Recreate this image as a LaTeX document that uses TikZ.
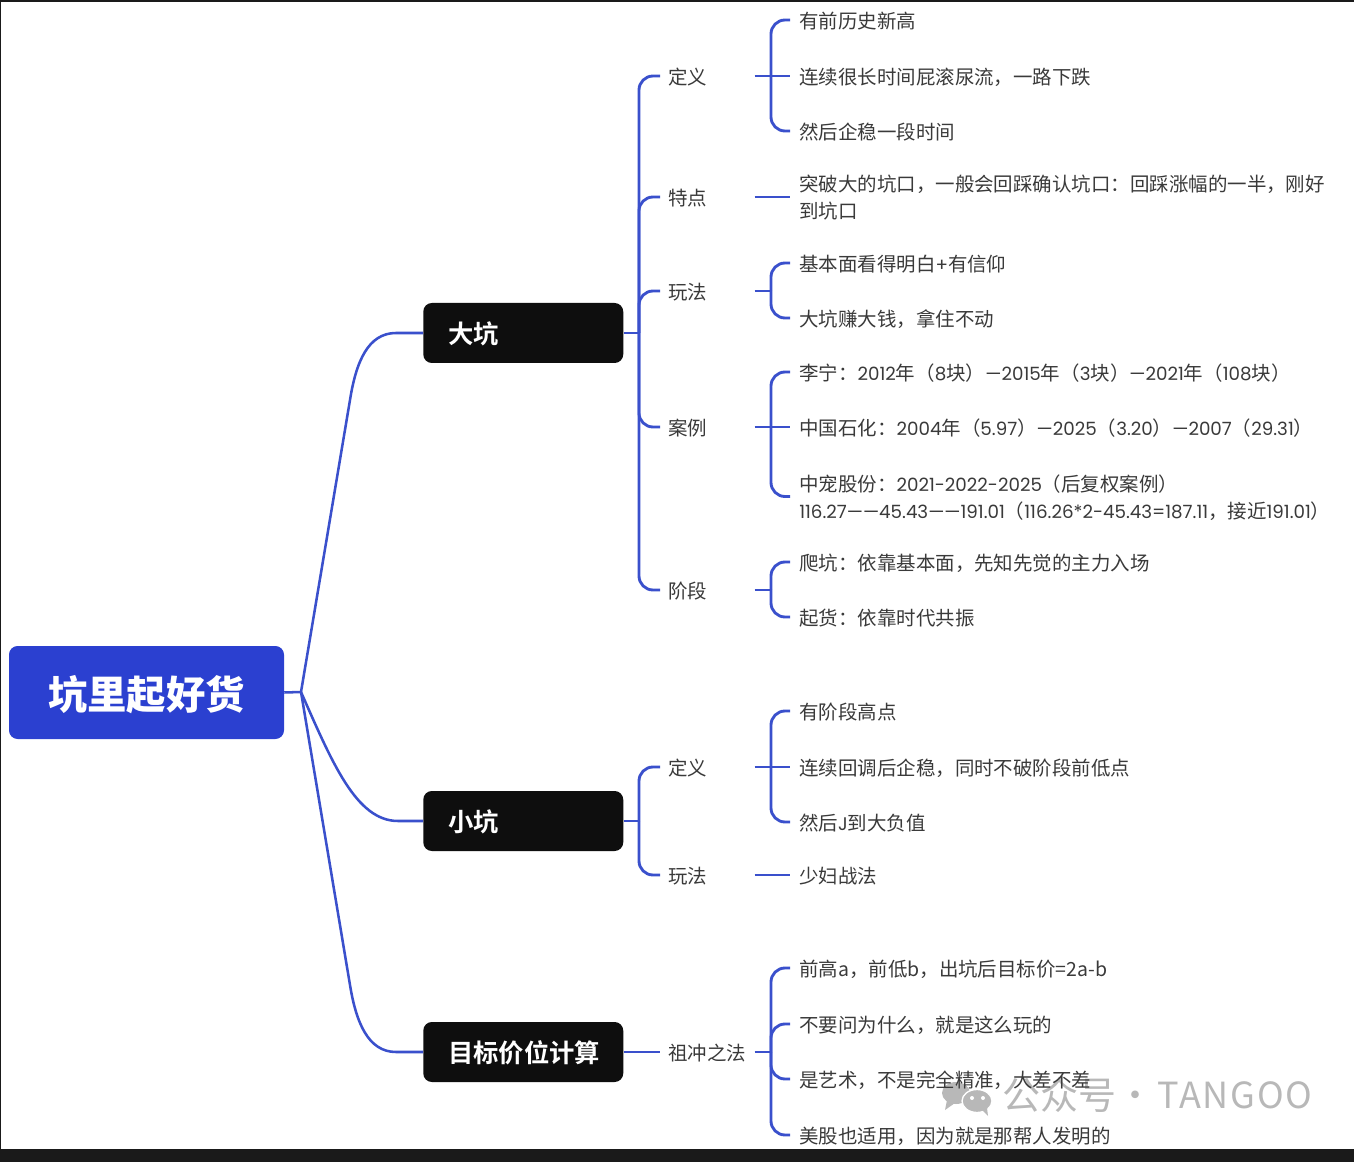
\documentclass[tikz,border=0pt]{standalone}
\usepackage{fontspec}
\newfontfamily\cjk[BoldFont={Noto Sans CJK SC Bold}]{Noto Sans CJK SC}
\newfontfamily\cjkblack{Noto Sans CJK SC Black}
\newfontfamily\popfont{Poppins}
\definecolor{mapblue}{HTML}{2B40D0}
\definecolor{linkblue}{HTML}{3A50CC}
\definecolor{inkdark}{HTML}{3A3A3A}
\definecolor{boxblack}{HTML}{0E0E0E}
\definecolor{framedark}{HTML}{1A1A1A}
\definecolor{wmgray}{HTML}{B8B8B8}
\newcommand{\pop}[1]{{\popfont\fontsize{13.7}{20.25}\selectfont #1}}
\newcommand{\dropped}[2]{\raisebox{-#1}[\height][\depth]{#2}}
\tikzset{
  rootbox/.style={fill=mapblue,rounded corners=6.5pt,minimum width=206.25pt,minimum height=69.75pt,inner sep=0pt,text=white,font=\cjkblack\fontsize{29.5}{32}\selectfont},
  topicbox/.style={fill=boxblack,rounded corners=6.5pt,minimum width=150pt,minimum height=45pt,inner xsep=18.75pt,inner ysep=0pt,text=white,anchor=west,text width=112.5pt,align=left,font=\cjk\bfseries\fontsize{19}{22}\selectfont},
  subtopic/.style={anchor=west,yshift=-0.75pt,inner xsep=6pt,inner ysep=0pt,text width=58.5pt,align=left,text=inkdark,font=\cjk\fontsize{14.6}{20.25}\selectfont},
  leaf/.style={anchor=west,yshift=-0.75pt,inner xsep=6.75pt,inner ysep=0pt,align=left,text=inkdark,font=\cjk\fontsize{14.6}{20.25}\selectfont},
  link/.style={draw=linkblue,line width=1.9pt},
  branch/.style={draw=linkblue,line width=2.15pt},
  elbow/.style={branch,rounded corners=10.5pt},
}
% text nodes sit 1px below their connector line, so connector ends are lifted back
\newcommand{\elbows}[2]{\foreach \c in {#2}{\draw[elbow] (#1) |- ([yshift=0.75pt]\c.west);}}
\begin{document}
\begin{tikzpicture}[x=0.75pt,y=-0.75pt]
\useasboundingbox (0,0) rectangle (1354,1162);
\fill[white] (0,0) rectangle (1354,1162);
\fill[framedark] (0,0) rectangle (1354,2);
\fill[framedark] (0,0) rectangle (1,1162);
\fill[framedark] (0,1149) rectangle (1354,1162);

% watermark
\fill[wmgray] (956,1093) ellipse (14 and 11);
\fill[wmgray] (947,1100) -- (945,1110) -- (955,1103) -- cycle;
\fill[wmgray,draw=white,line width=1pt] (977,1101) ellipse (15 and 11.5);
\fill[wmgray] (982,1110) -- (988,1116) -- (987,1108) -- cycle;
\fill[white] (972,1098) circle (2);
\fill[white] (983,1098) circle (2);
\node[anchor=west,inner sep=0pt,text=wmgray,font=\cjk\fontsize{28.5}{30}\selectfont] (wmark) at (1002,1095) {公众号};
\node[inner sep=0pt,text=wmgray,font=\cjk\fontsize{27}{30}\selectfont] (wdot) at (1135,1100) {·};
\node[anchor=west,inner sep=0pt,text=wmgray,font=\cjk\fontsize{27}{30}\selectfont\addfontfeature{LetterSpace=5}] (wname) at (1157,1095) {TANGOO};

% root and topics
\node[rootbox] (root) at (146.5,692.5) {\dropped{1.6pt}{坑里起好货}};
\node[topicbox] (big) at (423,333) {\dropped{0.7pt}{大坑}};
\node[topicbox] (small) at (423,821) {\dropped{0.7pt}{小坑}};
\node[topicbox] (target) at (423,1052) {\dropped{0.7pt}{目标价位计算}};
\coordinate (rh) at (301,692);
\coordinate (bh) at (639,333);
\coordinate (sh) at (639,821);

% second level
\node[subtopic] (bdef) at (660,76) {定义};
\node[subtopic] (bfea) at (660,197) {特点};
\node[subtopic] (bplay) at (660,291) {玩法};
\node[subtopic] (bcase) at (660,427) {案例};
\node[subtopic] (bstage) at (660,590) {阶段};
\node[subtopic] (sdef) at (660,767) {定义};
\node[subtopic] (splay) at (660,875) {玩法};
\node[subtopic] (zu) at (660,1052) {祖冲之法};

% hubs
\coordinate (h1) at (771,76);
\coordinate (h3) at (771,291);
\coordinate (h4) at (771,427);
\coordinate (h5) at (771,590);
\coordinate (h6) at (771,767);
\coordinate (h8) at (771,1052);

% leaves
\node[leaf] (a1) at (790,20) {有前历史新高};
\node[leaf] (a2) at (790,76) {连续很长时间屁滚尿流，一路下跌};
\node[leaf] (a3) at (790,131) {然后企稳一段时间};
\node[leaf] (b1) at (790,197) {突破大的坑口，一般会回踩确认坑口：回踩涨幅的一半，刚好\\到坑口};
\node[leaf] (c1) at (790,263) {基本面看得明白\pop{+}有信仰};
\node[leaf] (c2) at (790,318) {大坑赚大钱，拿住不动};
\node[leaf] (d1) at (790,372) {李宁：\pop{2012}年（\pop{8}块）\pop{—2015}年（\pop{3}块）\pop{—2021}年（\pop{108}块）};
\node[leaf] (d2) at (790,427) {中国石化：\pop{2004}年（\pop{5.97}）\pop{—2025}（\pop{3.20}）\pop{—2007}（\pop{29.31}）};
\node[leaf] (d3) at (790,496.5) {中宠股份：\pop{2021-2022-2025}（后复权案例）\\\pop{116.27——45.43——191.01}（\pop{116.26*2-45.43=187.11}，接近\pop{191.01}）};
\node[leaf] (e1) at (790,562) {爬坑：依靠基本面，先知先觉的主力入场};
\node[leaf] (e2) at (790,617) {起货：依靠时代共振};
\node[leaf] (f1) at (790,711) {有阶段高点};
\node[leaf] (f2) at (790,767) {连续回调后企稳，同时不破阶段前低点};
\node[leaf] (f3) at (790,822) {然后\pop{J}到大负值};
\node[leaf] (g1) at (790,875) {少妇战法};
\node[leaf] (k1) at (790,968) {前高a，前低b，出坑后目标价=2a-b};
\node[leaf] (k2) at (790,1024) {不要问为什么，就是这么玩的};
\node[leaf] (k3) at (790,1079) {是艺术，不是完全精准，大差不差};
\node[leaf] (k4) at (790,1135) {美股也适用，因为就是那帮人发明的};

% root connectors
\draw[link] (root.east) -- (rh);
\draw[link] (rh) -- (350,400) .. controls (356,362) and (368,333) .. (396,333) -- (big.west);
\draw[link] (rh) .. controls (332,762) and (356,821) .. (398,821) -- (small.west);
\draw[link] (rh) -- (350,985) .. controls (356,1022) and (368,1052) .. (396,1052) -- (target.west);

% topic connectors
\draw[branch] (big.east) -- (bh);
\elbows{bh}{bdef,bfea,bplay,bcase,bstage}
\draw[branch] (small.east) -- (sh);
\elbows{sh}{sdef,splay}
\draw[branch] (target.east) -- ([yshift=0.75pt]zu.west);

% subtopic connectors
\draw[branch] ([yshift=0.75pt]bdef.east) -- (h1);
\elbows{h1}{a1,a3}
\draw[branch] (h1) -- ([yshift=0.75pt]a2.west);
\draw[branch] ([yshift=0.75pt]bfea.east) -- ([yshift=0.75pt]b1.west);
\draw[branch] ([yshift=0.75pt]bplay.east) -- (h3);
\elbows{h3}{c1,c2}
\draw[branch] ([yshift=0.75pt]bcase.east) -- (h4);
\elbows{h4}{d1,d3}
\draw[branch] (h4) -- ([yshift=0.75pt]d2.west);
\draw[branch] ([yshift=0.75pt]bstage.east) -- (h5);
\elbows{h5}{e1,e2}
\draw[branch] ([yshift=0.75pt]sdef.east) -- (h6);
\elbows{h6}{f1,f3}
\draw[branch] (h6) -- ([yshift=0.75pt]f2.west);
\draw[branch] ([yshift=0.75pt]splay.east) -- ([yshift=0.75pt]g1.west);
\draw[branch] ([yshift=0.75pt]zu.east) -- (h8);
\elbows{h8}{k1,k2,k3,k4}
\end{tikzpicture}
\end{document}
